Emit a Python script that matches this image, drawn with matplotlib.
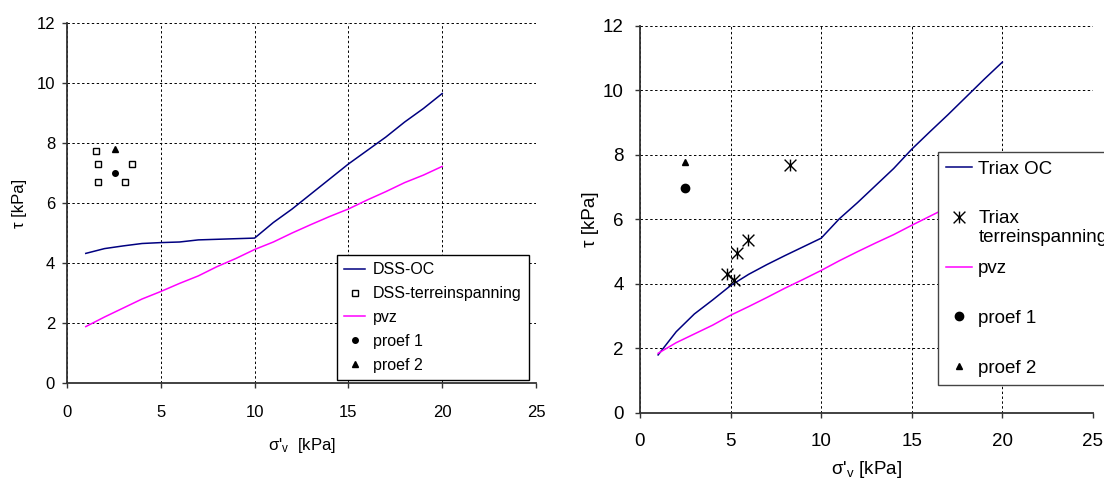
import matplotlib
matplotlib.use("Agg")
import matplotlib.pyplot as plt
from matplotlib.path import Path

plt.rcParams["font.family"] = ["Liberation Sans", "DejaVu Sans"]
plt.rcParams["mathtext.default"] = "regular"

# --- DSS panel ---
sig_dss = [1, 2, 3, 4, 5, 6, 7, 8, 9, 10, 11, 12, 13, 14, 15, 16, 17, 18, 19, 20]
dss_oc = [4.32, 4.48, 4.57, 4.65, 4.68, 4.70, 4.77, 4.79, 4.81, 4.83,
          5.35, 5.80, 6.30, 6.80, 7.30, 7.75, 8.20, 8.70, 9.15, 9.65]
pvz_dss = [1.88, 2.20, 2.50, 2.80, 3.05, 3.32, 3.57, 3.88, 4.15, 4.45,
           4.70, 5.00, 5.28, 5.55, 5.80, 6.10, 6.38, 6.68, 6.93, 7.22]
dss_terr_x = [1.53, 1.67, 1.67, 3.45, 3.09]
dss_terr_y = [7.73, 7.31, 6.71, 7.29, 6.71]
proef1_dss = [2.55, 7.00]
proef2_dss = [2.55, 7.79]

# --- Triax panel ---
sig_tx = [1, 2, 3, 4, 5, 6, 7, 8, 9, 10, 11, 12, 13, 14, 15, 16, 17, 18, 19, 20]
triax_oc = [1.80, 2.52, 3.07, 3.50, 3.95, 4.30, 4.60, 4.88, 5.15, 5.42,
            6.02, 6.52, 7.05, 7.58, 8.18, 8.72, 9.25, 9.80, 10.35, 10.88]
pvz_tx = [1.85, 2.18, 2.45, 2.72, 3.03, 3.30, 3.58, 3.87, 4.14, 4.42,
          4.72, 5.00, 5.27, 5.53, 5.82, 6.10, 6.38, 6.67, 6.95, 7.22]
tx_terr_x = [4.82, 5.19, 5.34, 5.94, 8.26]
tx_terr_y = [4.31, 4.12, 4.95, 5.36, 7.70]
proef1_tx = [2.48, 6.97]
proef2_tx = [2.48, 7.77]

NAVY = "#000080"
MAGENTA = "#FF00FF"

# vertical bar plus an X, like the spreadsheet asterisk
STAR = Path([(0, -1), (0, 1), (-1, -1), (1, 1), (-1, 1), (1, -1)],
            [Path.MOVETO, Path.LINETO] * 3)


def style_axes(ax, fs, xpad, ypad):
    ax.set_xlim(0, 25)
    ax.set_ylim(0, 12)
    ax.set_xticks(range(0, 26, 5))
    ax.set_yticks(range(0, 13, 2))
    ax.grid(True, color="black", ls=(0, (2.5, 2.5)), lw=0.7)
    ax.set_axisbelow(True)
    for s in ("top", "right"):
        ax.spines[s].set_visible(False)
    for s in ("left", "bottom"):
        ax.spines[s].set_color("#333333")
        ax.spines[s].set_linewidth(1.3)
    ax.tick_params(axis="both", direction="out", length=3.6, width=1.0,
                   color="#333333", labelsize=fs)
    ax.tick_params(axis="x", pad=xpad)
    ax.tick_params(axis="y", pad=ypad)


fig = plt.figure(figsize=(11.04, 4.82), dpi=100)

# left: DSS
ax1 = fig.add_axes([0.0607, 0.2054, 0.4248, 0.7469])
style_axes(ax1, 12, 12.5, 5)
ax1.plot(sig_dss, dss_oc, color=NAVY, lw=1.1, label="DSS-OC")
ax1.plot(dss_terr_x, dss_terr_y, ls="none", marker="s", ms=5, mfc="white",
         mec="black", mew=1.0, label="DSS-terreinspanning")
ax1.plot(sig_dss, pvz_dss, color=MAGENTA, lw=1.1, label="pvz")
ax1.plot(*proef1_dss, ls="none", marker="o", ms=4, color="black", label="proef 1")
ax1.plot(*proef2_dss, ls="none", marker="^", ms=4.5, color="black", label="proef 2")
ax1.set_xlabel("σ'$_{v}$  [kPa]", fontsize=12)
ax1.set_ylabel("τ [kPa]", fontsize=12)
ax1.xaxis.set_label_coords(0.5, -0.148)
ax1.yaxis.set_label_coords(-0.085, 0.5)
leg1 = ax1.legend(loc="upper left", bbox_to_anchor=(0.3053, 0.4710),
                  bbox_transform=fig.transFigure, fontsize=11.5, frameon=True,
                  fancybox=False, framealpha=1, edgecolor="black",
                  handlelength=1.3, handletextpad=0.5, labelspacing=0.56,
                  borderpad=0.45, borderaxespad=0)
leg1.get_frame().set_linewidth(1.0)

# right: Triax
ax2 = fig.add_axes([0.5797, 0.1432, 0.4103, 0.8029])
style_axes(ax2, 13.5, 11, 8)
ax2.plot(sig_tx, triax_oc, color=NAVY, lw=1.1, label="Triax OC")
ax2.plot(tx_terr_x, tx_terr_y, ls="none", marker=STAR, ms=8.5, mfc="none",
         mec="black", mew=1.0, label="Triax")
ax2.plot(sig_tx, pvz_tx, color=MAGENTA, lw=1.1, label="pvz")
ax2.plot(*proef1_tx, ls="none", marker="o", ms=6, color="black", label="proef 1")
ax2.plot(*proef2_tx, ls="none", marker="^", ms=5, color="black", label="proef 2")
ax2.set_xlabel("σ'$_{v}$ [kPa]", fontsize=13.5)
ax2.set_ylabel("τ [kPa]", fontsize=13.5)
ax2.xaxis.set_label_coords(0.5, -0.12)
ax2.yaxis.set_label_coords(-0.09, 0.5)
# the box runs past the right edge of the figure
leg2 = ax2.legend(loc="upper left", bbox_to_anchor=(0.8496, 0.0, 0.17, 0.6846),
                  bbox_transform=fig.transFigure, mode="expand", fontsize=13.5,
                  frameon=True, fancybox=False, framealpha=1, edgecolor="#444444",
                  handlelength=1.35, handletextpad=0.35, labelspacing=1.74,
                  borderpad=0.45, borderaxespad=0)
leg2.get_frame().set_linewidth(1.0)

# second line of the "Triax" entry hangs below it without adding a row
fig.canvas.draw()
bb = leg2.get_texts()[1].get_window_extent()
W, H = fig.get_size_inches() * fig.dpi
fig.text(bb.x0 / W, (bb.y0 - 2) / H, "terreinspanning", fontsize=13.5,
         ha="left", va="top", zorder=10)

fig.savefig("out.png", dpi=100, facecolor="white")
